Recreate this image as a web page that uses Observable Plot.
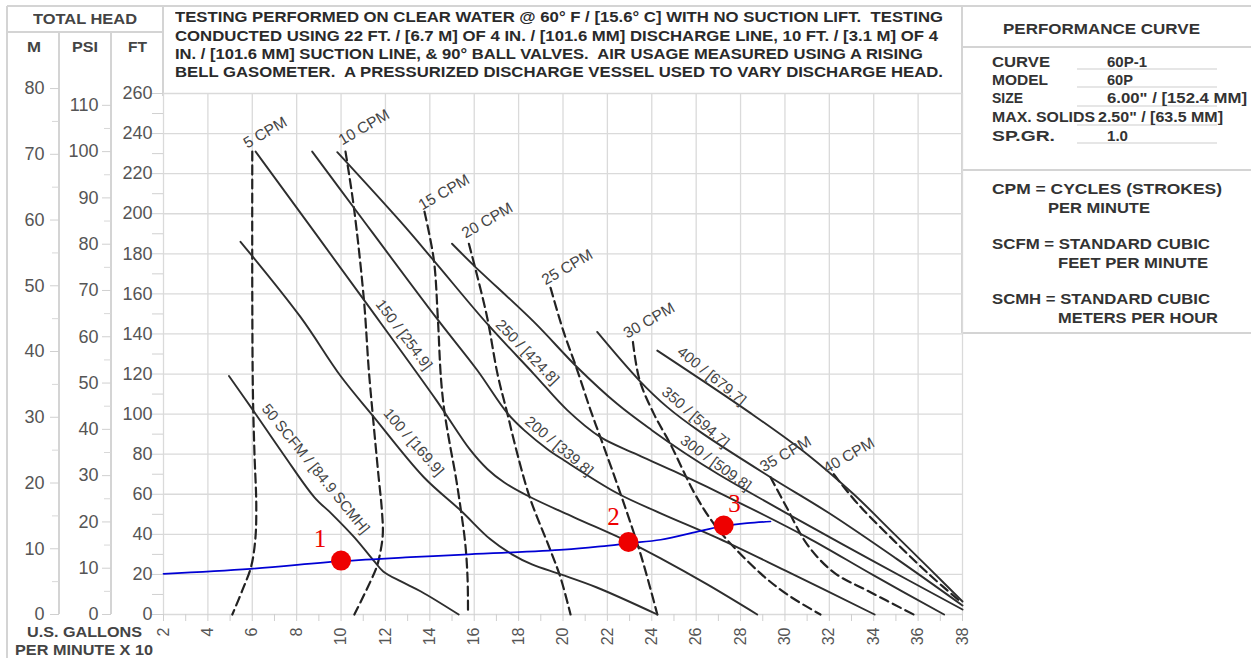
<!DOCTYPE html>
<html><head><meta charset="utf-8">
<script src="https://cdn.jsdelivr.net/npm/d3@7"></script>
<script src="https://cdn.jsdelivr.net/npm/@observablehq/plot@0.6"></script>
<style>
html,body{margin:0;padding:0;background:#fff;}
#wrap{position:relative;width:1251px;height:658px;overflow:hidden;background:#fff;font-family:"Liberation Sans",Arial,Helvetica,sans-serif;}
#chart{position:absolute;left:0;top:0;}
.lbl{position:absolute;white-space:pre;line-height:1;transform-origin:0 50%;}
.ln{position:absolute;background:#d4d4d4;}
</style></head><body><div id="wrap"></div>
<script>
// ---------------- DATA ----------------
// x = U.S. gallons per minute x 10, ft = total head in feet
const gpmTicks = d3.range(2, 40, 2);
const gpmMinor = d3.range(2, 39, 1);
const ftTicks = d3.range(0, 280, 20);
const ftMinor = d3.range(0, 270, 10);
const mTicks = d3.range(0, 90, 10);
const mMinor = d3.range(5, 85, 10);
const psiTicks = d3.range(0, 120, 10);
const psiMinor = d3.range(5, 115, 10);
const M_PER_FT = 0.3048;
const FT_PER_PSI = 2.31;

// air consumption curves (solid)
const scfmNames = ["50", "100", "150", "200", "250", "300", "350", "400"];
const scfm50 = [[4.95,119],[6.0,102.5],[7.4,80],[8.8,58.5],[9.6,50],[10.6,38.5],[11.5,26.5],[11.9,21.5],[12.7,16.5],[13.6,11.5],[15.3,0]];
const scfm100 = [[5.47,186],[8.17,148.5],[9.98,119],[11.48,98.5],[13.73,68.5],[15.38,52],[16.73,37.5],[17.7,30],[18.6,25],[19.9,20],[21.5,13.6],[24.25,0]];
const scfm150 = [[6.15,231],[11.03,157],[14.29,107],[15.83,82],[16.6,72.5],[17.34,66],[18.54,58.5],[20.5,48.5],[23.0,36],[24.4,28],[26.5,15],[28.75,0]];
const scfm200 = [[8.7,231],[10.58,203],[14.33,147.5],[16.13,122],[17.49,100.5],[18.3,91.5],[19.3,82.5],[20.04,77],[22.45,60.5],[24.4,50.5],[27,38],[30,22],[34.04,0]];
const scfm250 = [[9.83,230.7],[12.68,196],[14.18,176.6],[16.59,145],[18.69,120],[20.19,102],[21.69,88.5],[23.2,80.5],[25,71.5],[28,55.5],[31,38.5],[34,19.5],[37.17,0]];
const scfm300 = [[15.0,185],[16.0,174],[18.69,146],[20.64,123.4],[22.45,105],[24.0,92],[25.5,80.5],[27,70],[30,51],[34,26.5],[38,2.5]];
const scfm350 = [[21.54,141],[23.42,117],[24.7,103.5],[26.2,91],[29.35,68.5],[32,50.5],[35,28],[38,4.5]];
const scfm400 = [[24.25,131.7],[28.45,100.5],[31,80],[33.1,60],[34.76,42],[36.5,23],[38,6.5]];
const scfmCurves = [scfm50, scfm100, scfm150, scfm200, scfm250, scfm300, scfm350, scfm400];
const scfmLabelText = ["50 SCFM / [84.9 SCMH]", "100 / [169.9]", "150 / [254.9]", "200 / [339.8]", "250 / [424.8]", "300 / [509.8]", "350 / [594.7]", "400 / [679.7]"];
const scfmLabelX = [8.85, 13.27, 12.83, 19.82, 18.39, 26.88, 25.97, 26.7];
const scfmLabelFt = [72.7, 86, 139.6, 84, 130.9, 75.6, 98.5, 119];
const scfmLabelAngle = [51, 49, 53, 40, 46, 36, 41, 39];

// speed curves (dashed)
const cpmNames = ["5 CPM", "10 CPM", "15 CPM", "20 CPM", "25 CPM", "30 CPM", "35 CPM", "40 CPM"];
const cpm5 = [[6.0,231],[6.0,160],[6.03,110],[6.1,80],[6.18,55],[6.14,38],[5.95,24],[5.55,12],[5.1,0]];
const cpm10 = [[10.2,231],[10.58,203],[11.03,157],[11.25,122],[11.45,97],[11.68,70],[11.84,52],[11.88,40],[11.75,30],[11.58,23],[10.6,0]];
const cpm15 = [[13.76,201],[14.18,177],[14.36,148],[14.5,118],[14.65,102],[14.9,85],[15.15,70],[15.4,52],[15.6,35],[15.7,18],[15.72,0]];
const cpm20 = [[15.76,185],[16.55,150],[17.05,120],[17.5,100],[17.9,82],[18.5,58.5],[19.4,33],[19.9,18],[20.34,0]];
const cpm25 = [[19.44,163],[20.0,142],[20.64,122],[21.24,102],[21.83,84],[22.6,60],[23.5,30],[24.25,0]];
const cpm30 = [[23.15,136],[23.45,117],[24.1,100],[24.84,85],[25.9,61],[26.65,47.5],[27.25,39],[28.9,20.5],[30.1,10],[31.6,0]];
const cpm35 = [[29.35,68.5],[30.1,53],[31.0,35],[32.2,21],[33.7,12],[35.8,0]];
const cpm40 = [[32.2,70],[33.3,55],[34.9,37],[36.5,20],[37.95,6]];
const cpmCurves = [cpm5, cpm10, cpm15, cpm20, cpm25, cpm30, cpm35, cpm40];
const cpmLabelX = [5.77, 10.05, 13.66, 15.61, 19.21, 22.9, 29.05, 31.9];
const cpmLabelFt = [232.4, 234, 201.6, 187.5, 164.2, 137.6, 71, 70.2];

// system curve (blue) and operating points
const systemCurve = [[2,20.3],[5.92,22.8],[10,26.6],[13.13,28.6],[15.53,29.9],[20.04,32.4],[21.69,34],[23.0,35.6],[24.4,37.3],[26.2,41.7],[27.25,44.2],[28.3,45.6],[29.35,46.4]];
const opNames = ["1", "2", "3"];
const opX = [10.0, 22.95, 27.24];
const opFt = [26.9, 36.2, 44.4];
const opLabelX = [9.05, 22.28, 27.73];
const opLabelFt = [37.6, 48.9, 54.9];

// ---------------- BUILD ----------------
const wrap = document.getElementById("wrap");
function hline(x, y, w, color) { const d = document.createElement("div"); d.className = "ln"; Object.assign(d.style, {left: x + "px", top: (y - 0.75) + "px", width: w + "px", height: "1.5px"}); if (color) d.style.background = color; wrap.appendChild(d); }
function vline(x, y, h, color) { const d = document.createElement("div"); d.className = "ln"; Object.assign(d.style, {left: (x - 0.75) + "px", top: y + "px", width: "1.5px", height: h + "px"}); if (color) d.style.background = color; wrap.appendChild(d); }

// panel frame lines
hline(7, 6, 1244);
vline(7, 6, 652);
hline(7, 32, 156);
vline(59, 32, 582);
vline(111, 32, 582);
vline(163, 6, 90);
vline(962, 6, 327);
hline(962, 47, 289);
hline(962, 170, 289);
hline(962, 333, 289);
[69, 87, 106, 125, 143].forEach(y => hline(1077, y, 140, "#e6e6e6"));

const rows = (names, curves) => names.flatMap((n, i) => curves[i].map(([x, ft]) => ({name: n, x, ft})));
const solidRows = rows(scfmNames, scfmCurves);
const dashedRows = rows(cpmNames, cpmCurves);
const sysRows = systemCurve.map(([x, ft]) => ({x, ft}));
const opRows = opNames.map((n, i) => ({n, x: opX[i], ft: opFt[i], lx: opLabelX[i], lft: opLabelFt[i]}));
const scfmLab = scfmLabelText.map((t, i) => ({t, x: scfmLabelX[i], ft: scfmLabelFt[i], a: scfmLabelAngle[i]}));
const cpmLab = cpmNames.map((t, i) => ({t, x: cpmLabelX[i], ft: cpmLabelFt[i]}));

const gridColor = "#dadada";
const numColor = "#555";
const chart = Plot.plot({
  width: 1251, height: 658,
  marginLeft: 163, marginRight: 289, marginTop: 93, marginBottom: 44,
  x: {domain: [2, 38], label: null},
  y: {domain: [0, 260], label: null},
  style: {background: "transparent", fontFamily: "'Liberation Sans', Arial, sans-serif", overflow: "visible"},
  marks: [
    Plot.gridX(gpmTicks, {stroke: gridColor, strokeOpacity: 1, strokeWidth: 1.3}),
    Plot.gridY(ftTicks, {stroke: gridColor, strokeOpacity: 1, strokeWidth: 1.3}),
    Plot.axisX(gpmMinor, {tickSize: 7, stroke: "#cfcfcf", fill: "none", label: null}),
    Plot.axisX(gpmTicks, {tickSize: 0, tickPadding: 13, tickRotate: -90, fontSize: 16, fill: numColor, label: null}),
    Plot.axisY(ftMinor, {anchor: "left", tickSize: 11, stroke: "#d0d0d0", fill: "none", label: null}),
    Plot.axisY(ftTicks, {anchor: "left", tickSize: 0, tickPadding: 11, fontSize: 18, fill: numColor, label: null}),
    Plot.axisY(psiTicks.map(p => p * FT_PER_PSI), {anchor: "left", dx: -52, tickSize: 9, tickPadding: 4, stroke: "#d0d0d0", tickFormat: d => Math.round(d / FT_PER_PSI), fontSize: 18, fill: numColor, label: null}),
    Plot.axisY(psiMinor.map(p => p * FT_PER_PSI), {anchor: "left", dx: -52, tickSize: 7, stroke: "#d8d8d8", fill: "none", label: null}),
    Plot.axisY(mTicks.map(m => m / M_PER_FT), {anchor: "left", dx: -104, tickSize: 9, tickPadding: 6, stroke: "#d0d0d0", tickFormat: d => Math.round(d * M_PER_FT), fontSize: 18, fill: numColor, label: null}),
    Plot.axisY(mMinor.map(m => m / M_PER_FT), {anchor: "left", dx: -104, tickSize: 7, stroke: "#d8d8d8", fill: "none", label: null}),
    Plot.line(dashedRows, {x: "x", y: "ft", z: "name", stroke: "#222", strokeWidth: 2.2, strokeDasharray: "9,5", curve: "catmull-rom"}),
    Plot.line(solidRows, {x: "x", y: "ft", z: "name", stroke: "#2e2e2e", strokeWidth: 1.9, curve: "catmull-rom"}),
    Plot.text(scfmLab, {x: "x", y: "ft", text: "t", rotate: "a", fontSize: 15, fill: "#444"}),
    Plot.text(cpmLab, {x: "x", y: "ft", text: "t", rotate: -30, textAnchor: "start", lineAnchor: "bottom", fontSize: 15.5, fill: "#444"}),
    Plot.line(sysRows, {x: "x", y: "ft", stroke: "#0000d4", strokeWidth: 1.7, curve: "catmull-rom"}),
    Plot.dot(opRows, {x: "x", y: "ft", r: 10, fill: "#ee0000", stroke: "none"}),
    Plot.text(opRows, {x: "lx", y: "lft", text: "n", fill: "#ee0000", fontSize: 25, fontFamily: "'Liberation Serif', 'Times New Roman', serif"})
  ]
});
const holder = document.createElement("div");
holder.id = "chart";
holder.appendChild(chart);
wrap.appendChild(holder);

function place(txt, x, yc, {size = 15, weight = "bold", color = "#333", width = null} = {}) {
  const el = document.createElement("div");
  el.className = "lbl";
  el.textContent = txt;
  Object.assign(el.style, {fontSize: size + "px", fontWeight: weight, color, left: x + "px", top: (yc - 0.49 * size) + "px"});
  wrap.appendChild(el);
  if (width) {
    const w = el.getBoundingClientRect().width;
    if (w > 0) el.style.transform = `scaleX(${width / w})`;
  }
}

// header notes
const noteLines = [
  "TESTING PERFORMED ON CLEAR WATER @ 60° F / [15.6° C] WITH NO SUCTION LIFT.  TESTING",
  "CONDUCTED USING 22 FT. / [6.7 M] OF 4 IN. / [101.6 MM] DISCHARGE LINE, 10 FT. / [3.1 M] OF 4",
  "IN. / [101.6 MM] SUCTION LINE, & 90° BALL VALVES.  AIR USAGE MEASURED USING A RISING",
  "BELL GASOMETER.  A PRESSURIZED DISCHARGE VESSEL USED TO VARY DISCHARGE HEAD."
];
const noteY = [17, 35.5, 53.5, 71.5];
const noteW = [768, 763, 748, 768];
noteLines.forEach((t, i) => place(t, 175, noteY[i], {size: 14, color: "#2a2a2a", width: noteW[i]}));

// left headings
place("TOTAL HEAD", 33, 18, {size: 15, color: "#444", width: 104});
place("M", 27, 46, {size: 15, color: "#444", width: 14});
place("PSI", 72, 46, {size: 15, color: "#444", width: 26});
place("FT", 128, 46, {size: 15, color: "#444", width: 19});
place("U.S. GALLONS", 27, 631, {size: 15, color: "#444", width: 115});
place("PER MINUTE X 10", 15, 649, {size: 15, color: "#444", width: 138});

// right panel
place("PERFORMANCE CURVE", 1003, 28, {size: 15, width: 197});
const specKeys = ["CURVE", "MODEL", "SIZE", "MAX. SOLIDS", "SP.GR."];
const specVals = ["60P-1", "60P", "6.00\" / [152.4 MM]", "2.50\" / [63.5 MM]", "1.0"];
const specY = [61, 79, 97.5, 116, 135];
const specKeyW = [58, 56, 31, 103, 63];
const specValX = [1107, 1107, 1107, 1098, 1107];
const specValW = [40, 26, 140, 125, 21];
specKeys.forEach((k, i) => {
  place(k, 992, specY[i], {size: 15, width: specKeyW[i]});
  place(specVals[i], specValX[i], specY[i], {size: 15, width: specValW[i]});
});
place("CPM = CYCLES (STROKES)", 992, 188, {size: 15, width: 230});
place("PER MINUTE", 1048, 207, {size: 15, width: 102});
place("SCFM = STANDARD CUBIC", 992, 243.5, {size: 15, width: 218});
place("FEET PER MINUTE", 1058, 262.5, {size: 15, width: 150});
place("SCMH = STANDARD CUBIC", 992, 298.5, {size: 15, width: 218});
place("METERS PER HOUR", 1058, 317.5, {size: 15, width: 160});
</script></body></html>
